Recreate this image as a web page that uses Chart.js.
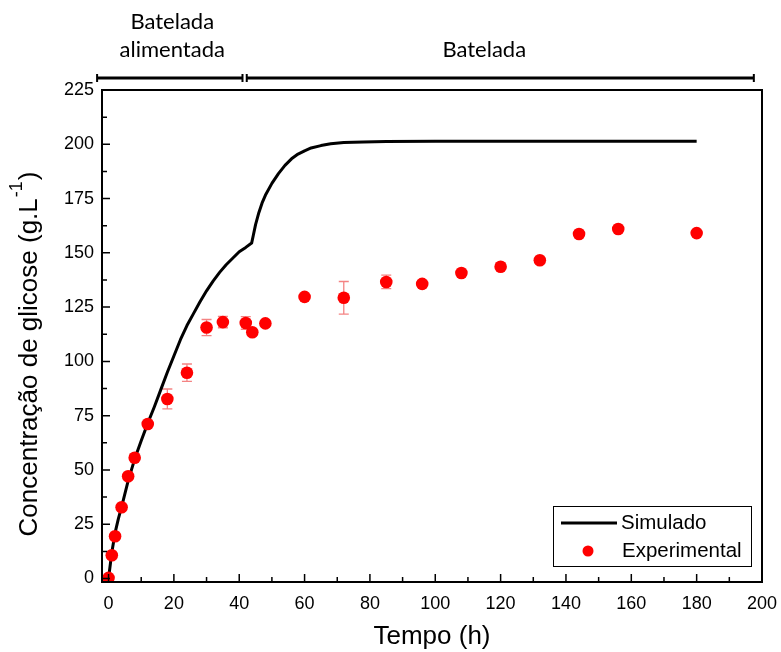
<!DOCTYPE html>
<html lang="pt">
<head>
<meta charset="UTF-8">
<title>Concentração de glicose</title>
<script src="https://cdn.jsdelivr.net/npm/chart.js@4.4.0/dist/chart.umd.min.js"></script>
<style>
    html, body { margin: 0; padding: 0; background: #fff; }
    .chart-wrapper { position: relative; width: 781px; height: 652px; }
</style>
</head>
<body>
<div class="chart-wrapper"><canvas id="glicoseChart"></canvas></div>
<script>
    // Simulated curve (tempo em h, glicose em g/L)
    const simTempo   = [0, 1, 2, 3, 4, 6, 8, 10, 12, 14, 16, 18, 20, 22, 24, 26, 28, 30, 32, 34, 36, 38, 40, 42, 43.8, 44.3, 45, 46, 47, 48, 50, 52, 54, 56, 58, 60, 62, 65, 68, 72, 78, 85, 100, 180];
    const simGlicose = [0, 12, 21, 27.5, 33, 45, 55, 63.5, 71.5, 79, 87, 95, 102.5, 110, 116.5, 122, 127.5, 132.5, 137, 141, 144.5, 147.5, 150.5, 152.5, 154.5, 158, 163, 168.5, 173, 176.5, 182, 186.5, 190.3, 193.3, 195.5, 197, 198.3, 199.4, 200.2, 200.8, 201.1, 201.3, 201.4, 201.4];

    // Experimental points with error
    const expTempo   = [0, 1, 2, 4, 6, 8, 12, 18, 24, 30, 35, 42, 44, 48, 60, 72, 85, 96, 108, 120, 132, 144, 156, 180];
    const expGlicose = [0.3, 10.7, 19.5, 32.8, 47.1, 55.6, 71.2, 82.7, 94.8, 115.6, 118.1, 117.7, 113.4, 117.5, 129.7, 129.3, 136.6, 135.7, 140.7, 143.6, 146.6, 158.7, 161.0, 159.1];
    const expErro    = [0, 0, 0, 0, 0, 1.2, 0.8, 4.6, 4.0, 3.7, 2.6, 2.9, 1.2, 1.0, 1.0, 7.5, 3.1, 1.5, 1.0, 1.0, 1.0, 1.2, 1.0, 0.8];

    const xTicks = [0, 20, 40, 60, 80, 100, 120, 140, 160, 180, 200];
    const yTicks = [0, 25, 50, 75, 100, 125, 150, 175, 200, 225];

    const axisFont = "'Liberation Sans', Arial, sans-serif";

    const toPts = (xs, ys) => xs.map((x, i) => ({ x: x, y: ys[i] }));

    // frame, inward ticks, error bars, legend, phase marks, y title
    const extras = {
        id: 'extras',
        beforeDatasetsDraw(chart) {
            const ctx = chart.ctx;
            const xs = chart.scales.x, ys = chart.scales.y;
            ctx.save();
            ctx.strokeStyle = 'rgba(240, 90, 90, 0.75)';
            ctx.lineWidth = 1.3;
            expTempo.forEach((t, i) => {
                const e = expErro[i];
                if (!e) return;
                const px = xs.getPixelForValue(t);
                const y1 = ys.getPixelForValue(expGlicose[i] + e);
                const y2 = ys.getPixelForValue(expGlicose[i] - e);
                ctx.beginPath();
                ctx.moveTo(px, y1); ctx.lineTo(px, y2);
                ctx.moveTo(px - 5, y1); ctx.lineTo(px + 5, y1);
                ctx.moveTo(px - 5, y2); ctx.lineTo(px + 5, y2);
                ctx.stroke();
            });
            ctx.restore();
        },
        afterDraw(chart) {
            const ctx = chart.ctx;
            const a = chart.chartArea;
            const xs = chart.scales.x, ys = chart.scales.y;
            ctx.save();

            // frame
            ctx.strokeStyle = '#000';
            ctx.lineWidth = 2;
            ctx.strokeRect(a.left, a.top, a.right - a.left, a.bottom - a.top);

            // inward ticks
            ctx.lineWidth = 1.5;
            ctx.beginPath();
            for (let v = 0; v <= 200; v += 10) {
                const px = xs.getPixelForValue(v);
                const len = v % 20 === 0 ? 8 : 5;
                ctx.moveTo(px, a.bottom); ctx.lineTo(px, a.bottom - len);
            }
            for (let v = 0; v <= 225; v += 12.5) {
                const py = ys.getPixelForValue(v);
                const len = v % 25 === 0 ? 8 : 5;
                ctx.moveTo(a.left, py); ctx.lineTo(a.left + len, py);
            }
            ctx.stroke();

            // phase marks above the plot
            const phases = [
                { linhas: ['Batelada', 'alimentada'], ini: -3.5, fim: 41, centro: 19.5 },
                { linhas: ['Batelada'], ini: 42.3, fim: 197.5, centro: 115 }
            ];
            const barY = 78;
            ctx.lineWidth = 3;
            ctx.fillStyle = '#000';
            ctx.font = "22px Lato, 'Open Sans', sans-serif";
            ctx.textAlign = 'center';
            ctx.textBaseline = 'middle';
            phases.forEach(ph => {
                const x1 = xs.getPixelForValue(ph.ini), x2 = xs.getPixelForValue(ph.fim);
                ctx.beginPath();
                ctx.moveTo(x1, barY); ctx.lineTo(x2, barY);
                ctx.stroke();
                ctx.save();
                ctx.lineWidth = 2;
                ctx.beginPath();
                ctx.moveTo(x1, barY - 4); ctx.lineTo(x1, barY + 4);
                ctx.moveTo(x2, barY - 4); ctx.lineTo(x2, barY + 4);
                ctx.stroke();
                ctx.restore();
                const cx = xs.getPixelForValue(ph.centro);
                const n = ph.linhas.length;
                ph.linhas.forEach((s, k) => {
                    ctx.fillText(s, cx, 50 - (n - 1 - k) * 28);
                });
            });

            // y axis title with superscript
            ctx.save();
            ctx.translate(28, 355);
            ctx.rotate(-Math.PI / 2);
            const base = 'Concentração de glicose (g.L';
            ctx.font = '26px ' + axisFont;
            const wBase = ctx.measureText(base).width;
            ctx.font = '18px ' + axisFont;
            const wSup = ctx.measureText('-1').width;
            ctx.font = '26px ' + axisFont;
            const wEnd = ctx.measureText(')').width;
            let x0 = -(wBase + wSup + wEnd) / 2;
            ctx.textAlign = 'left';
            ctx.textBaseline = 'alphabetic';
            ctx.fillText(base, x0, 9);
            ctx.font = '18px ' + axisFont;
            ctx.fillText('-1', x0 + wBase + 1, -6);
            ctx.font = '26px ' + axisFont;
            ctx.fillText(')', x0 + wBase + wSup + 2, 9);
            ctx.restore();

            // legend box
            const lx = 553, ly = 506, lw = 198, lh = 60;
            ctx.lineWidth = 1;
            ctx.strokeStyle = '#000';
            ctx.strokeRect(lx + 0.5, ly + 0.5, lw, lh);
            ctx.font = '20.5px ' + axisFont;
            ctx.textAlign = 'left';
            ctx.textBaseline = 'middle';
            const ds = chart.data.datasets;
            ctx.lineWidth = 3;
            ctx.beginPath();
            ctx.moveTo(561, 523); ctx.lineTo(617, 523);
            ctx.stroke();
            ctx.fillText(ds[0].label, 621, 523);
            ctx.fillStyle = '#ff0000';
            ctx.beginPath();
            ctx.arc(588, 551, 5.5, 0, Math.PI * 2);
            ctx.fill();
            ctx.fillStyle = '#000';
            ctx.fillText(ds[1].label, 622, 551);

            ctx.restore();
        }
    };

    new Chart(document.getElementById('glicoseChart'), {
        type: 'scatter',
        data: {
            datasets: [{
                label: 'Simulado',
                data: toPts(simTempo, simGlicose),
                showLine: true,
                borderColor: '#000',
                borderWidth: 3,
                borderJoinStyle: 'round',
                pointRadius: 0,
                tension: 0,
                order: 2
            }, {
                label: 'Experimental',
                data: toPts(expTempo, expGlicose),
                backgroundColor: '#ff0000',
                borderColor: '#ff0000',
                pointRadius: 6.3,
                borderWidth: 0,
                order: 1
            }]
        },
        options: {
            responsive: true,
            maintainAspectRatio: false,
            animation: false,
            layout: { padding: { left: 20, right: 19, top: 90, bottom: 0 } },
            plugins: {
                legend: { display: false },
                tooltip: { enabled: false }
            },
            scales: {
                x: {
                    type: 'linear',
                    min: -2,
                    max: 200,
                    afterBuildTicks: s => { s.ticks = xTicks.map(v => ({ value: v })); },
                    afterFit: s => { s.height = 70; s.paddingLeft = 0; s.paddingRight = 0; },
                    grid: { display: false, drawTicks: false },
                    border: { display: false },
                    ticks: { color: '#000', padding: 11, font: { family: axisFont, size: 18 } },
                    title: {
                        display: true,
                        text: 'Tempo (h)',
                        color: '#000',
                        font: { family: axisFont, size: 26 },
                        padding: { top: 0, bottom: 0 }
                    }
                },
                y: {
                    type: 'linear',
                    min: -1.6,
                    max: 225,
                    afterBuildTicks: s => { s.ticks = yTicks.map(v => ({ value: v })); },
                    afterFit: s => { s.width = 82; s.paddingTop = 0; s.paddingBottom = 0; },
                    grid: { display: false, drawTicks: false },
                    border: { display: false },
                    ticks: { color: '#000', padding: 8, font: { family: axisFont, size: 18 } },
                    title: { display: false }
                }
            }
        },
        plugins: [extras]
    });
</script>
</body>
</html>
